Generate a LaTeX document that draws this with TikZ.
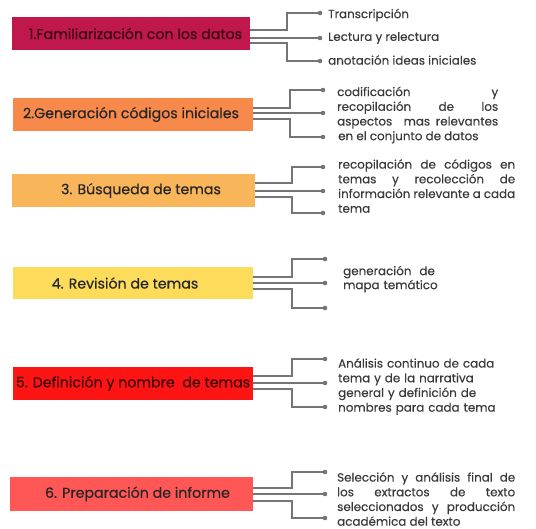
\documentclass[tikz,border=0pt]{standalone}
\usepackage{fontspec}
\setmainfont{Poppins}[FakeBold=0.35]
\definecolor{c1}{HTML}{C0184C}
\definecolor{c2}{HTML}{F78A4A}
\definecolor{c3}{HTML}{F9B55A}
\definecolor{c4}{HTML}{FDDC5C}
\definecolor{c5}{HTML}{FF1414}
\definecolor{c6}{HTML}{FF5656}
\definecolor{linec}{HTML}{757575}
\definecolor{txt}{HTML}{3A3A3A}
\tikzset{
  box/.style={draw=none, rectangle, inner sep=0pt},
  boxtext/.style={font=\fontsize{14.2}{16}\selectfont, text=black!85, inner sep=0pt},
  conn/.style={draw=linec, line width=1.1pt},
  dot/.style={circle, fill=linec, inner sep=0pt, minimum size=4.6pt},
  desc/.style={font=\fontsize{11.9}{14.7}\selectfont, text=txt, inner sep=0pt, anchor=west},
  para/.style={desc, anchor=west, align=justify},
}
\begin{document}
\begin{tikzpicture}[x=1pt,y=-1pt]
\useasboundingbox (0,0) rectangle (536,529);
% ---- boxes
\node[box, fill=c1, minimum width=238pt, minimum height=33pt] (b1) at (131,33.5) {};
\node[boxtext, text=c1!30!black] (t1) at (135.5,33.5) {1.Familiarización con los datos};
\node[box, fill=c2, minimum width=240pt, minimum height=33pt] (b2) at (133,114.5) {};
\node[boxtext] (t2) at (131,114.5) {2.Generación códigos iniciales};
\node[box, fill=c3, minimum width=243pt, minimum height=33pt] (b3) at (133.5,190.5) {};
\node[boxtext] (t3) at (141,190.5) {3. Búsqueda de temas};
\node[box, fill=c4, minimum width=240pt, minimum height=32pt] (b4) at (133,283) {};
\node[boxtext] (t4) at (125,283) {4. Revisión de temas};
\node[box, fill=c5, minimum width=240pt, minimum height=33pt] (b5) at (133,383.5) {};
\node[boxtext, text=c5!25!black] (t5) at (133,383.5) {5. Definición y nombre\ \ de temas};
\node[box, fill=c6, minimum width=243pt, minimum height=34pt] (b6) at (131.5,494) {};
\node[boxtext] (t6) at (137.5,494) {6. Preparación de informe};
% ---- dots
\coordinate (d1a) at (320,13);  \coordinate (d1b) at (320,38);  \coordinate (d1c) at (320,61);
\coordinate (d2a) at (323,90);  \coordinate (d2b) at (323,113); \coordinate (d2c) at (323,137);
\coordinate (d3a) at (323,167); \coordinate (d3b) at (323,191); \coordinate (d3c) at (323,213);
\coordinate (d4a) at (325,259); \coordinate (d4b) at (325,283); \coordinate (d4c) at (325,308);
\coordinate (d5a) at (325,359); \coordinate (d5b) at (325,383); \coordinate (d5c) at (325,407);
\coordinate (d6a) at (325,472); \coordinate (d6b) at (325,494); \coordinate (d6c) at (325,518);
% ---- connectors
\draw[conn] (b1.east |- 0,30) -| (287,13) -- (d1a);
\draw[conn] (b1.east |- 0,38) -- (d1b);
\draw[conn] (b1.east |- 0,43) -| (287,61) -- (d1c);
\draw[conn] (b2.east |- 0,108) -| (290,90) -- (d2a);
\draw[conn] (b2.east |- 0,113) -- (d2b);
\draw[conn] (b2.east |- 0,119) -| (290,137) -- (d2c);
\draw[conn] (b3.east |- 0,183) -| (292,167) -- (d3a);
\draw[conn] (b3.east |- 0,191) -- (d3b);
\draw[conn] (b3.east |- 0,197) -| (292,213) -- (d3c);
\draw[conn] (b4.east |- 0,277) -| (292,259) -- (d4a);
\draw[conn] (b4.east |- 0,283) -- (d4b);
\draw[conn] (b4.east |- 0,289) -| (292,308) -- (d4c);
\draw[conn] (b5.east |- 0,376) -| (292,359) -- (d5a);
\draw[conn] (b5.east |- 0,383) -- (d5b);
\draw[conn] (b5.east |- 0,389) -| (292,407) -- (d5c);
\draw[conn] (b6.east |- 0,488) -| (292,472) -- (d6a);
\draw[conn] (b6.east |- 0,494) -- (d6b);
\draw[conn] (b6.east |- 0,501) -| (292,518) -- (d6c);
\foreach \d in {d1a,d1b,d1c,d2a,d2b,d2c,d3a,d3b,d3c,d4a,d4b,d4c,d5a,d5b,d5c,d6a,d6b,d6c}
  \node[dot] at (\d) {};
% ---- descriptions
\node[desc] (e1a) at (328,15) {Transcripción};
\node[desc] (e1b) at (328,38) {Lectura y relectura};
\node[desc] (e1c) at (328,60) {anotación ideas iniciales};
\node[para, text width=161pt] (e2) at (337,115) {codificación y\linebreak recopilación de los\linebreak aspectos\ \ mas relevantes\linebreak\hspace*{1pt}en el conjunto de datos};
\node[para, text width=177pt] (e3) at (338,186) {recopilación de códigos en\linebreak temas y recolección de\linebreak información relevante a cada\linebreak tema};
\node[para, text width=120pt, align=left, font=\fontsize{11.9}{14}\selectfont] (e4) at (343,279) {generación\ \ de\\mapa temático};
\node[para, text width=185pt, align=left] (e5) at (338,386.5) {Análisis continuo de cada\\tema y de la narrativa\\general y definición de\\nombres para cada tema};
\node[para, text width=178pt] (e6) at (337,499) {Selección y análisis final de\linebreak los extractos de texto\linebreak seleccionados y producción\linebreak académica del texto};
\end{tikzpicture}
\end{document}
